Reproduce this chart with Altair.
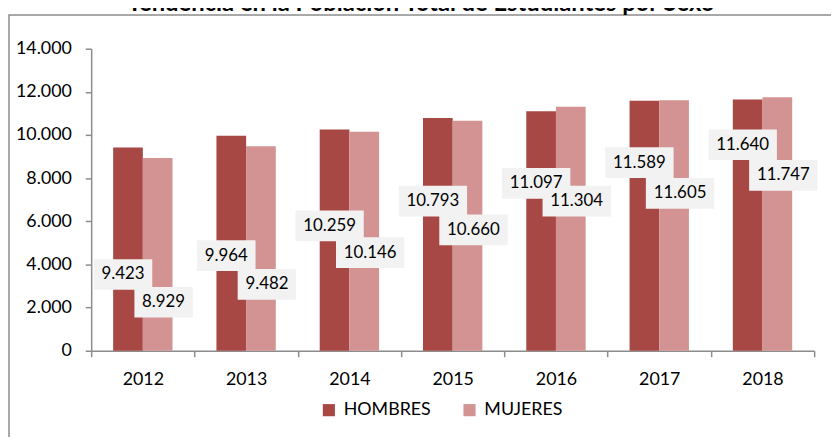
import altair as alt
import pandas as pd

years = ["2012", "2013", "2014", "2015", "2016", "2017", "2018"]
series = ["HOMBRES", "MUJERES"]
hombres = [9423, 9964, 10259, 10793, 11097, 11589, 11640]
mujeres = [8929, 9482, 10146, 10660, 11304, 11605, 11747]
# vertical anchor (value units) of each data label box
label_y_hombres = [3534, 4407, 5784, 6931, 7757, 8721, 9548]
label_y_mujeres = [2249, 3075, 4544, 5600, 6931, 7298, 8125]
colors = ["#A84845", "#D39392"]

FONT = "Lato"
W, H = 730, 305
DX = {"HOMBRES": -5, "MUJERES": 6}

rows = []
for s, vals, ly in [("HOMBRES", hombres, label_y_hombres), ("MUJERES", mujeres, label_y_mujeres)]:
    for yr, v, l in zip(years, vals, ly):
        txt = f"{v:,}".replace(",", ".")
        bw = 59 if len(txt) <= 5 else 69
        r = bw / 2
        h = 15.5 / r
        ox = DX[s] / r
        path = f"M{ox-1:.4f},{-h:.4f}H{ox+1:.4f}V{h:.4f}H{ox-1:.4f}Z"
        rows.append({"year": yr, "sexo": s, "value": v, "label": txt,
                     "ly": l, "shape": path, "bsize": bw * bw})
df = pd.DataFrame(rows)

x_enc = alt.X("year:N", sort=years,
              scale=alt.Scale(paddingInner=0, paddingOuter=0),
              axis=alt.Axis(title=None, labelAngle=0, tickBand="extent",
                            labelFont=FONT, labelFontSize=18, labelColor="#000",
                            domainColor="#8c8c8c", tickColor="#8c8c8c",
                            tickSize=6, labelPadding=14, domainWidth=1.5, tickWidth=1.5))
xoff = alt.XOffset("sexo:N", sort=series,
                   scale=alt.Scale(paddingInner=0, paddingOuter=0.74))

base = alt.Chart(df)

bars = base.mark_bar(strokeWidth=1).encode(
    x=x_enc,
    xOffset=xoff,
    y=alt.Y("value:Q", scale=alt.Scale(domain=[0, 14000]),
            axis=alt.Axis(title=None, values=list(range(0, 14001, 2000)),
                          labelExpr="replace(format(datum.value, ','), ',', '.')",
                          labelFont=FONT, labelFontSize=18, labelColor="#000",
                          domainColor="#8c8c8c", tickColor="#8c8c8c",
                          tickSize=6, labelPadding=14, grid=False,
                          domainWidth=1.5, tickWidth=1.5)),
    color=alt.Color("sexo:N", sort=series,
                    scale=alt.Scale(domain=series, range=colors),
                    legend=alt.Legend(title=None, orient="none", direction="horizontal",
                                      legendX=231, legendY=356,
                                      symbolType="square", symbolSize=150,
                                      symbolStrokeWidth=0,
                                      labelFont=FONT, labelFontSize=18, labelColor="#000",
                                      labelOffset=6, columnPadding=30)),
)

boxes = base.mark_point(filled=True, fill="#F2F2F2", opacity=1, strokeWidth=0).encode(
    x=alt.X("year:N", sort=years),
    xOffset=alt.XOffset("sexo:N", sort=series),
    y=alt.Y("ly:Q"),
    shape=alt.Shape("shape:N", scale=None, legend=None),
    size=alt.Size("bsize:Q", scale=None, legend=None),
)

texts = []
for s in series:
    texts.append(
        base.transform_filter(alt.datum.sexo == s).mark_text(
            font=FONT, fontSize=17, color="#000", dx=DX[s], baseline="middle"
        ).encode(
            x=alt.X("year:N", sort=years),
            xOffset=alt.XOffset("sexo:N", sort=series),
            y=alt.Y("ly:Q"),
            text="label:N",
        )
    )

frame = alt.Chart(alt.Data(values=[{"a": 1}])).mark_rect(
    fillOpacity=0, stroke="#8c8c8c", strokeWidth=1.5
).encode(
    x=alt.value(-83), x2=alt.value(W + 40),
    y=alt.value(-34), y2=alt.value(H + 130),
)

chart = alt.layer(bars, boxes, *texts, frame).resolve_scale(
    xOffset="shared"
).properties(
    width=W, height=H,
    autosize=alt.AutoSizeParams(type="none"),
    padding={"left": 84, "top": 39, "right": 17, "bottom": 85},
    title=alt.TitleParams(
        text="Tendencia en la Población Total de Estudiantes por Sexo",
        font=FONT, fontSize=24, fontWeight="bold", color="#000",
        anchor="middle", offset=-2, dx=-32,
    ),
).configure_view(stroke=None)

chart.save("out.html", embed_options={"renderer": "svg", "actions": False})
